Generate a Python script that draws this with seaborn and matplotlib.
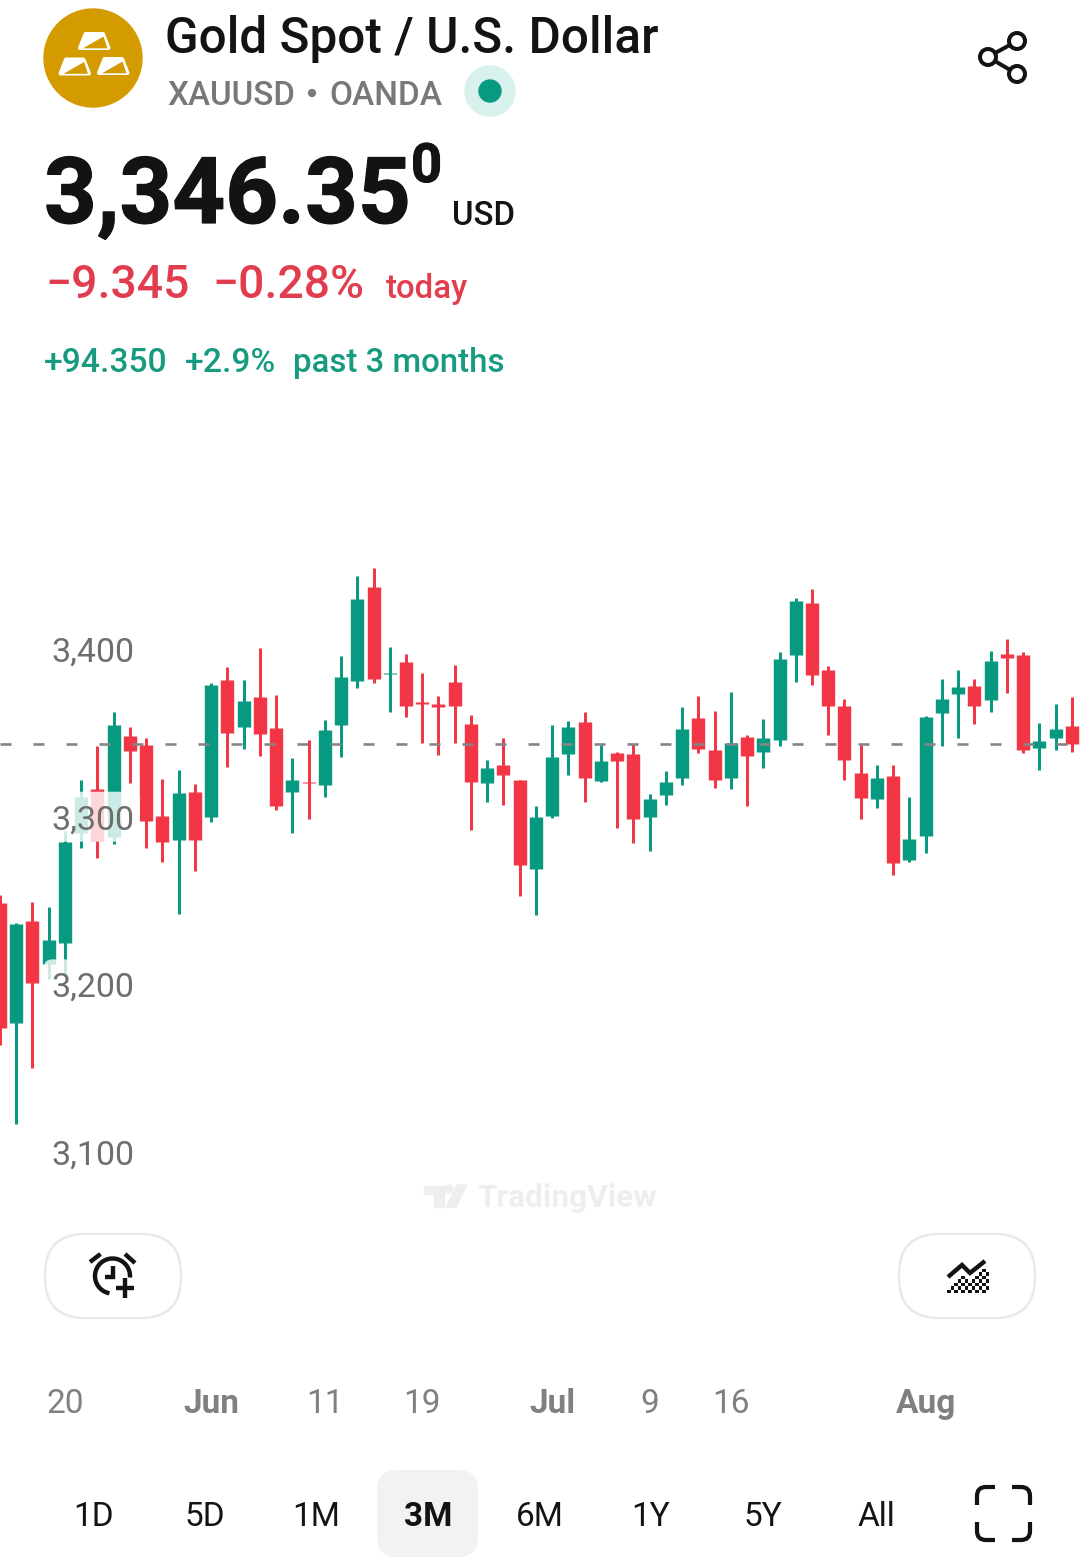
import matplotlib
matplotlib.use("Agg")
import matplotlib.patheffects as pe
import matplotlib.pyplot as plt
import numpy as np
import pandas as pd
import seaborn as sns
from matplotlib.patches import Circle, FancyBboxPatch, Polygon, Rectangle
from matplotlib.transforms import IdentityTransform, ScaledTranslation

# Daily XAUUSD sessions, in chronological order
opens = [3251.4, 3180.1, 3241.0, 3215.3, 3227.5, 3293.2, 3319.3, 3291.0, 3351.0, 3346.0, 3303.6,
         3289.3, 3317.5, 3303.0, 3384.3, 3356.7, 3374.3, 3355.8, 3317.5, 3323.8, 3322.1, 3357.8,
         3383.9, 3440.2, 3387.9, 3395.4, 3371.4, 3370.0, 3383.5, 3358.3, 3322.9, 3334.0, 3325.1,
         3271.6, 3303.2, 3340.2, 3359.3, 3324.1, 3341.2, 3340.2, 3302.8, 3315.7, 3325.9, 3362.1,
         3342.8, 3326.3, 3350.7, 3341.4, 3348.7, 3399.2, 3430.6, 3390.5, 3369.2, 3329.3, 3313.8,
         3327.3, 3277.0, 3291.5, 3364.6, 3376.0, 3381.1, 3372.4, 3399.8, 3399.4, 3344.0, 3350.1,
         3357.1]
highs = [3256.2, 3239.9, 3251.9, 3249.2, 3294.3, 3324.7, 3344.9, 3365.6, 3356.7, 3349.7, 3325.4,
         3331.0, 3322.5, 3382.8, 3392.1, 3384.5, 3403.4, 3375.4, 3337.8, 3348.9, 3360.4, 3398.7,
         3446.7, 3451.3, 3404.0, 3400.0, 3388.5, 3375.2, 3393.5, 3363.6, 3336.8, 3350.1, 3325.1,
         3309.4, 3357.9, 3359.9, 3365.6, 3345.6, 3341.8, 3346.2, 3316.7, 3330.1, 3368.6, 3374.8,
         3366.2, 3377.4, 3351.7, 3361.1, 3401.2, 3433.2, 3438.8, 3393.1, 3373.2, 3345.8, 3334.0,
         3333.8, 3314.7, 3363.2, 3385.3, 3390.3, 3385.1, 3401.6, 3409.2, 3401.0, 3359.1, 3370.4,
         3374.6]
lows = [3167.0, 3119.6, 3153.3, 3206.2, 3208.3, 3284.5, 3278.6, 3286.7, 3323.2, 3284.5, 3275.8,
        3244.9, 3270.8, 3299.7, 3332.8, 3343.6, 3338.9, 3306.7, 3293.2, 3301.9, 3314.9, 3338.4,
        3379.6, 3382.5, 3365.2, 3362.6, 3346.7, 3339.6, 3347.0, 3295.1, 3312.0, 3309.8, 3255.7,
        3244.2, 3302.2, 3327.7, 3311.6, 3323.5, 3296.3, 3287.1, 3282.5, 3310.0, 3321.9, 3341.0,
        3320.1, 3319.5, 3309.6, 3331.8, 3345.0, 3383.3, 3381.3, 3351.5, 3325.1, 3301.6, 3308.0,
        3268.0, 3276.2, 3281.5, 3345.0, 3349.7, 3358.3, 3365.2, 3376.6, 3341.2, 3331.0, 3342.6,
        3341.4]
closes = [3176.8, 3239.2, 3204.0, 3229.4, 3287.7, 3314.9, 3288.8, 3357.8, 3342.1, 3300.3, 3288.2,
          3317.1, 3289.3, 3381.7, 3353.2, 3372.1, 3352.6, 3309.5, 3325.1, 3323.0, 3354.7, 3386.3,
          3432.6, 3385.3, 3388.9, 3369.2, 3370.2, 3368.6, 3369.2, 3323.5, 3332.0, 3327.9, 3274.2,
          3303.0, 3338.4, 3356.7, 3325.9, 3336.4, 3336.4, 3301.6, 3313.3, 3323.7, 3355.3, 3343.6,
          3324.9, 3347.1, 3339.0, 3349.7, 3396.8, 3431.4, 3387.3, 3368.8, 3337.0, 3314.3, 3326.3,
          3275.2, 3289.9, 3362.6, 3373.4, 3380.5, 3369.2, 3396.0, 3397.8, 3342.6, 3348.0, 3355.3,
          3346.35]

last_price = 3346.35
price_ticks = [3100, 3200, 3300, 3400]
date_ticks = [4, 13, 20, 26, 34, 40, 45, 57]
date_labels = ["20", "Jun", "11", "19", "Jul", "9", "16", "Aug"]
month_labels = {"Jun", "Jul", "Aug"}
ranges = ["1D", "5D", "1M", "3M", "6M", "1Y", "5Y", "All"]
active_range = "3M"

W, H, DPI = 1080, 1563, 100
PX = 72 / DPI               # one pixel in points
GREEN, RED = "#089981", "#F23645"
INK, GREY = "#131313", "#787878"
TXT_RED, TXT_GREEN = "#E23D4F", "#169A80"
SLOT_PX = 16.24             # horizontal distance between sessions
USD_PX = 1.677              # vertical pixels per dollar
LAST_Y = 744                # row of the last-price line
CHART_TOP, CHART_BOTTOM = 420, 1380

sns.set_theme(style="white")
plt.rcParams["font.family"] = ["Roboto", "DejaVu Sans"]

fig = plt.figure(figsize=(W / DPI, H / DPI), dpi=DPI, facecolor="white")

# Header, buttons and icons live in a pixel-addressed layer
ui = fig.add_axes([0, 0, 1, 1], zorder=0)
ui.set_xlim(0, W)
ui.set_ylim(H, 0)
ui.axis("off")

chart = fig.add_axes([0, 1 - CHART_BOTTOM / H, 1, (CHART_BOTTOM - CHART_TOP) / H], zorder=1)
chart.patch.set_alpha(0)
chart.set_xlim(0, W / SLOT_PX)
chart.set_ylim(last_price - (CHART_BOTTOM - LAST_Y) / USD_PX,
               last_price + (LAST_Y - CHART_TOP) / USD_PX)

candles = pd.DataFrame({"session": np.arange(len(opens)), "open": opens, "high": highs,
                        "low": lows, "close": closes})
candles["direction"] = np.where(candles["close"] >= candles["open"], "up", "down")
palette = {"up": GREEN, "down": RED}


def segments(first, second):
    part = candles.melt(id_vars=["session", "direction"], value_vars=[first, second],
                        value_name="price")
    return part.sort_values(["session", "variable"])


sns.lineplot(data=segments("low", "high"), x="session", y="price", hue="direction",
             units="session", estimator=None, sort=False, palette=palette, legend=False,
             linewidth=3 * PX, solid_capstyle="butt", ax=chart, zorder=2)
sns.lineplot(data=segments("open", "close"), x="session", y="price", hue="direction",
             units="session", estimator=None, sort=False, palette=palette, legend=False,
             linewidth=13.4 * PX, solid_capstyle="butt", ax=chart, zorder=2.1)

chart.axhline(last_price, color="#858585", linewidth=2.6 * PX, zorder=3,
              linestyle=(0, (11 / 2.6, 22 / 2.6)), dash_capstyle="butt")

chart.set_xlabel("")
chart.set_ylabel("")
sns.despine(ax=chart, left=True, bottom=True)
chart.set_axisbelow(False)

chart.set_xticks(date_ticks, date_labels)
chart.tick_params(axis="x", length=0, pad=5.6, labelsize=24, labelcolor="#808080")
for label in chart.get_xticklabels():
    if label.get_text() in month_labels:
        label.set_fontweight("bold")

chart.set_yticks(price_ticks, [f"{p:,}" for p in price_ticks])
chart.tick_params(axis="y", length=0, pad=-134 * PX, labelsize=24.5, labelcolor="#6E6E6E")
lift = ScaledTranslation(0, 5 / DPI, fig.dpi_scale_trans)
for label in chart.get_yticklabels():
    label.set_transform(label.get_transform() + lift)

# Veil behind the price scale, above the candles
for tick in price_ticks:
    y_disp = chart.transData.transform((0, tick))[1] + 5
    chart.add_artist(FancyBboxPatch((44, y_disp - 25), 96, 50,
                                    boxstyle="round,pad=0,rounding_size=8",
                                    facecolor="white", edgecolor="none", alpha=0.8,
                                    transform=IdentityTransform(), zorder=2.4))

renderer = fig.canvas.get_renderer()


def fit(text, x0, x1, baseline, **kw):
    t = ui.text(x0, baseline, text, va="baseline", ha="left", fontsize=20, **kw)
    width = t.get_window_extent(renderer).width
    t.set_fontsize(20 * (x1 - x0) / width)
    return t


def thicken(t, px):
    t.set_path_effects([pe.withStroke(linewidth=px * PX, foreground=t.get_color())])


# Header block
fit("Gold Spot / U.S. Dollar", 165, 659, 53, color=INK, fontweight="medium")
fit("XAUUSD", 167, 295, 105, color=GREY, fontweight="medium")
ui.add_patch(Circle((312, 93), 3.4, color=GREY))
fit("OANDA", 329, 442, 105, color=GREY, fontweight="medium")
ui.add_patch(Circle((490, 91), 25, color="#D9F1EC"))
ui.add_patch(Circle((490, 91), 11, color=GREEN))

thicken(fit("3,346.35", 44, 410, 223, color=INK, fontweight="bold"), 1.2)
thicken(fit("0", 411, 442, 182, color=INK, fontweight="bold"), 1.0)
fit("USD", 452, 515, 225, color=INK, fontweight="medium")

fit("\u22129.345", 45, 190, 298, color=TXT_RED, fontweight="medium")
fit("\u22120.28%", 212, 364, 298, color=TXT_RED, fontweight="medium")
fit("today", 386, 468, 298, color=TXT_RED, fontweight="medium")
fit("+94.350", 44, 168, 372, color=TXT_GREEN, fontweight="medium")
fit("+2.9%", 185, 276, 372, color=TXT_GREEN, fontweight="medium")
fit("past 3 months", 293, 504, 372, color=TXT_GREEN, fontweight="medium")

# Gold logo: three outlined ingots, each with a shaded wedge
LOGO = "#D39B00"
ui.add_patch(Circle((93, 58), 49, color=LOGO))
for dx, dy in [(0, 0), (-19.5, 25.5), (19, 25)]:
    ui.add_patch(Polygon([(85.5 + dx, 34 + dy), (103 + dx, 34 + dy), (108.5 + dx, 48 + dy), (80 + dx, 48 + dy)],
                         closed=True, facecolor="white", edgecolor="white", linewidth=4 * PX,
                         joinstyle="round"))
    ui.add_patch(Polygon([(83 + dx, 48.3 + dy), (103.5 + dx, 36.5 + dy), (107.5 + dx, 48.3 + dy)],
                         closed=True, facecolor=LOGO, edgecolor="none"))

# Share icon
for cx, cy in [(988, 57), (1017, 41), (1017, 74)]:
    ui.add_patch(Circle((cx, cy), 8, facecolor="white", edgecolor=INK, linewidth=4 * PX, zorder=3))
ui.plot([1017, 988, 1017], [41, 57, 74], color=INK, linewidth=4 * PX, zorder=2)

# Watermark
MARK = "#EEEEEE"
ui.add_patch(Polygon([(424, 1186), (444, 1186), (444, 1207), (434, 1207), (434, 1194), (424, 1194)],
                     color=MARK))
ui.add_patch(Circle((449, 1189), 4, color=MARK))
ui.add_patch(Polygon([(457, 1185), (467, 1185), (456, 1207), (446, 1207)], color=MARK))
fit("TradingView", 477, 656, 1207, color=MARK, fontweight="bold")

# Alert and indicator buttons
for x in (45, 899):
    ui.add_patch(FancyBboxPatch((x, 1234), 136, 84, boxstyle="round,pad=0,rounding_size=40",
                                facecolor="white", edgecolor="#E9E9E9", linewidth=2.4 * PX))

# Alarm clock with a plus sign
GLYPH = 4.4 * PX
theta = np.radians(np.linspace(100, 365, 80))
ui.plot(112.5 + 17.5 * np.cos(theta), 1276 + 17.5 * np.sin(theta), color=INK,
        linewidth=GLYPH, solid_capstyle="butt")
ui.plot([113.3, 113.3, 105], [1266, 1277, 1277], color=INK, linewidth=GLYPH,
        solid_joinstyle="miter", solid_capstyle="butt")
ui.plot([90, 100.5], [1262, 1254], color=INK, linewidth=GLYPH, solid_capstyle="butt")
ui.plot([125, 135], [1254, 1263], color=INK, linewidth=GLYPH, solid_capstyle="butt")
ui.plot([125, 125], [1278, 1298], color=INK, linewidth=GLYPH, solid_capstyle="butt", zorder=4)
ui.plot([116, 134], [1288, 1288], color=INK, linewidth=GLYPH, solid_capstyle="butt", zorder=4)

# Indicator glyph: a zigzag over a checkered area
ui.plot([948, 962, 970, 985], [1277, 1265, 1273, 1261], color=INK, linewidth=GLYPH,
        solid_joinstyle="miter", solid_capstyle="butt")
edge_x, edge_y = [947, 962, 970, 987], [1291, 1275, 1281, 1269]
CELL = 3.5
for col, cx in enumerate(np.arange(947, 987, CELL)):
    for row, cy in enumerate(np.arange(1293 - CELL, 1268, -CELL)):
        if (row + col) % 2 == 0 and cy + CELL >= np.interp(cx + CELL / 2, edge_x, edge_y):
            ui.add_patch(Rectangle((cx, cy), CELL, CELL, facecolor=INK, edgecolor="none"))

# Date range selector
ui.add_patch(FancyBboxPatch((377, 1470), 101, 87, boxstyle="round,pad=0,rounding_size=20",
                            facecolor="#F2F2F2", edgecolor="none"))
range_x = [94, 205, 316, 428, 540, 651, 763, 876]
for name, x in zip(ranges, range_x):
    ui.text(x, 1526, name, ha="center", va="baseline", fontsize=24, color=INK,
            fontweight="bold" if name == active_range else "normal")

# Fullscreen brackets
ui.add_patch(FancyBboxPatch((977, 1487), 53, 53, boxstyle="round,pad=0,rounding_size=9",
                            facecolor="none", edgecolor=INK, linewidth=4.2 * PX))
ui.add_patch(Rectangle((995, 1480), 17, 66, facecolor="white", edgecolor="none", zorder=3))
ui.add_patch(Rectangle((970, 1505), 67, 17, facecolor="white", edgecolor="none", zorder=3))

fig.savefig("out.png", dpi=DPI, facecolor="white")
